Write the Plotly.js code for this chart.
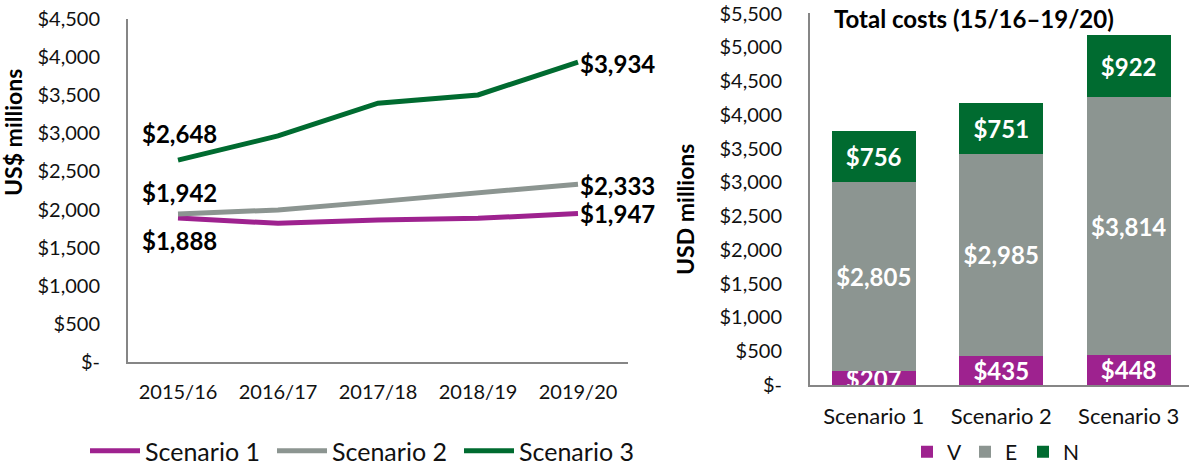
<!DOCTYPE html>
<html><head><meta charset="utf-8">
<script src="https://cdn.plot.ly/plotly-3.0.1.min.js"></script>
<style>html,body{margin:0;padding:0;background:#fff}#chart{width:1189px;height:464px}</style>
</head><body><div id="chart"></div>
<script>
// ---- data ----
const years = ['2015/16','2016/17','2017/18','2018/19','2019/20'];
const scenario1 = [1888, 1820, 1864, 1885, 1947];
const scenario2 = [1942, 1995, 2104, 2214, 2333];
const scenario3 = [2648, 2966, 3395, 3504, 3934];
const lineNames = ['Scenario 1','Scenario 2','Scenario 3'];

const scenarios = ['Scenario 1','Scenario 2','Scenario 3'];
const costV = [207, 435, 448];
const costE = [2805, 2985, 3814];
const costN = [756, 751, 922];
const barNames = ['V','E','N'];

const leftTicks = [0,500,1000,1500,2000,2500,3000,3500,4000,4500];
const rightTicks = [0,500,1000,1500,2000,2500,3000,3500,4000,4500,5000,5500];

// ---- style ----
const PURPLE = '#9E228F', GRAY = '#8C9591', GREEN = '#006B30';
const FONT = 'Lato, "DejaVu Sans", sans-serif';
const money = v => v === 0 ? '$-' : '$' + v.toLocaleString('en-US');

const traces = [];
[[scenario1, PURPLE],[scenario2, GRAY],[scenario3, GREEN]].forEach((s,i)=>{
  traces.push({type:'scatter', mode:'lines', x:years, y:s[0], name:lineNames[i],
    line:{color:s[1], width:5}, xaxis:'x', yaxis:'y', legend:'legend', hoverinfo:'skip'});
});
[[costV, PURPLE],[costE, GRAY],[costN, GREEN]].forEach((s,i)=>{
  traces.push({type:'bar', x:scenarios, y:s[0], name:barNames[i], marker:{color:s[1]},
    xaxis:'x2', yaxis:'y2', legend:'legend2', width:0.66,
    text:s[0].map(money), textposition:'inside', insidetextanchor:'middle',
    constraintext:'none', textangle:0, cliponaxis:false,
    textfont:{family:FONT, size:24, color:'#ffffff', weight:'bold'}, hoverinfo:'skip'});
});

// line labels (first & last points)
const lab = (x,y,xa,xs,ys) => ({x:x, y:y, xref:'x', yref:'y', text:money(y), showarrow:false,
  xanchor:xa, yanchor:'middle', xshift:xs, yshift:ys,
  font:{family:FONT, size:24, color:'#000', weight:'bold'}});
const annotations = [
  lab(years[0], scenario3[0], 'center', 1, 27),
  lab(years[4], scenario3[4], 'left', 0, -1),
  lab(years[0], scenario2[0], 'center', 1, 21),
  lab(years[4], scenario2[4], 'left', 0, -1),
  lab(years[0], scenario1[0], 'center', 1, -22),
  lab(years[4], scenario1[4], 'left', 0, 0),
  {xref:'paper', yref:'paper', x:13/1189, y:1-133/464, text:'US$ millions', textangle:-90,
   showarrow:false, xanchor:'center', yanchor:'middle',
   font:{family:FONT, size:23, color:'#000', weight:'bold'}},
  {xref:'paper', yref:'paper', x:685/1189, y:1-210/464, text:'USD millions', textangle:-90,
   showarrow:false, xanchor:'center', yanchor:'middle',
   font:{family:FONT, size:23, color:'#000', weight:'bold'}},
  {xref:'paper', yref:'paper', x:832/1189, y:1-19/464, text:'Total costs (15/16–19/20)',
   showarrow:false, xanchor:'left', yanchor:'middle',
   font:{family:FONT, size:24, color:'#000', weight:'bold'}}
];

const axisLine = {showline:true, linecolor:'#868686', linewidth:2, showgrid:false, zeroline:false, ticks:''};
const layout = {
  width:1189, height:464, margin:{l:0,r:0,t:0,b:0,autoexpand:false}, paper_bgcolor:'#fff', plot_bgcolor:'#fff',
  font:{family:FONT, size:20, color:'#111'},
  barmode:'stack', showlegend:true,
  xaxis:Object.assign({}, axisLine, {domain:[128/1189, 628/1189], type:'category', range:[-0.5,4.5],
    tickfont:{size:20}, anchor:'y', ticklabelstandoff:11, automargin:false}),
  yaxis:Object.assign({}, axisLine, {domain:[1-362/464, 1-19/464], range:[0,4500],
    tickvals:leftTicks, ticktext:leftTicks.map(money), tickfont:{size:20}, anchor:'x', ticklabelstandoff:22, automargin:false}),
  xaxis2:Object.assign({}, axisLine, {domain:[810/1189, 1], type:'category', range:[-0.5,2.473],
    tickfont:{size:22}, anchor:'y2', ticklabelstandoff:11, automargin:false}),
  yaxis2:Object.assign({}, axisLine, {domain:[1-385/464, 1-13/464], range:[0,5510],
    tickvals:rightTicks, ticktext:rightTicks.map(money), tickfont:{size:20}, anchor:'x2', ticklabelstandoff:22, automargin:false}),
  legend:{orientation:'h', x:85/1189, y:1-451/464, xanchor:'left', yanchor:'middle',
    font:{size:25}, itemwidth:50, entrywidth:122, entrywidthmode:'pixels', bgcolor:'rgba(0,0,0,0)'},
  legend2:{orientation:'h', x:907/1189, y:1-452/464, xanchor:'left', yanchor:'middle',
    font:{size:21}, itemwidth:30, entrywidth:13, entrywidthmode:'pixels', bgcolor:'rgba(0,0,0,0)', traceorder:'normal'},
  annotations:annotations
};
Plotly.newPlot('chart', traces, layout, {staticPlot:true});
</script></body></html>
